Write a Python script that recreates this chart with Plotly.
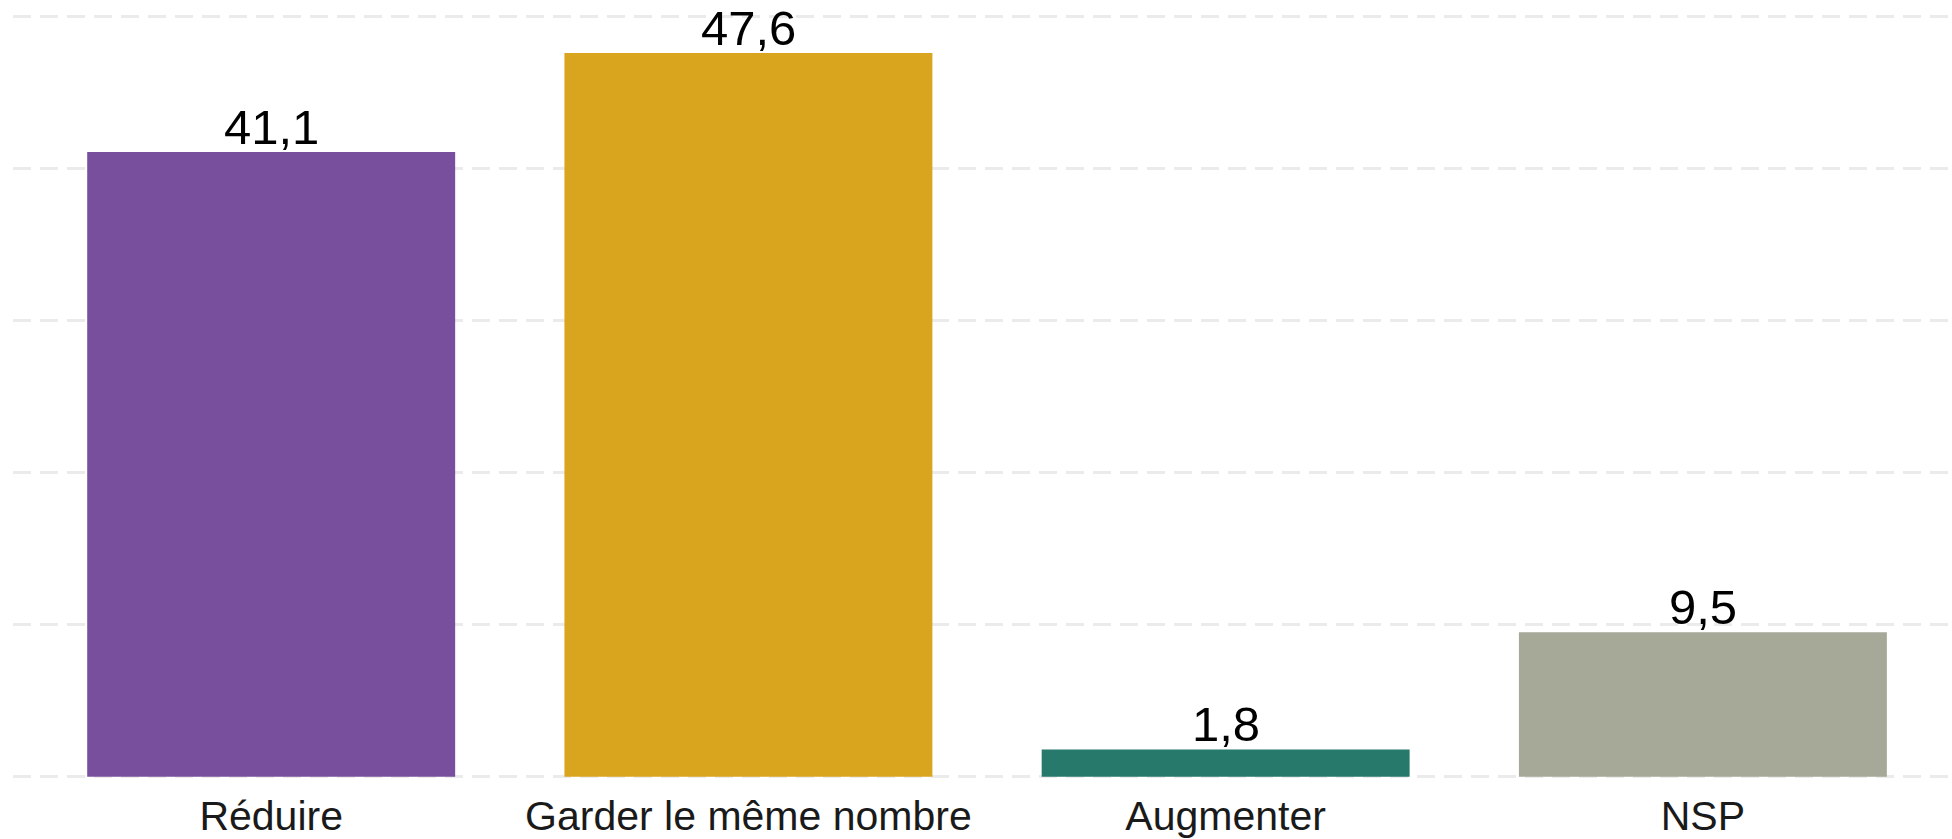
import plotly.graph_objects as go

categories = ["Réduire", "Garder le même nombre", "Augmenter", "NSP"]
values = [41.1, 47.6, 1.8, 9.5]
colors = ["#774F9C", "#DAA51E", "#27796C", "#A6A998"]
value_labels = [f"{v:.1f}".replace(".", ",") for v in values]

W, H = 1952, 839
plot_top, plot_bottom = 0, 785
plot_left = 13

fig = go.Figure(
    go.Bar(
        x=categories,
        y=values,
        marker=dict(color=colors, line=dict(width=0)),
        cliponaxis=False,
        width=0.771,
    )
)

# value labels sitting just above each bar
for cat, val, lab in zip(categories, values, value_labels):
    fig.add_annotation(
        x=cat,
        y=val,
        text=lab,
        showarrow=False,
        xanchor="center",
        yanchor="bottom",
        yshift=-4,
        font=dict(family="Liberation Sans, Arial, sans-serif", size=49, color="#000000"),
    )

fig.update_layout(
    width=W,
    height=H,
    margin=dict(l=plot_left, r=0, t=plot_top, b=H - plot_bottom, pad=0),
    paper_bgcolor="white",
    plot_bgcolor="white",
    showlegend=False,
    font=dict(family="Liberation Sans, Arial, sans-serif", color="#000000"),
)

fig.update_xaxes(
    range=[-0.541, 3.522],
    showgrid=False,
    showline=False,
    zeroline=False,
    ticks="",
    tickfont=dict(size=41, color="#1a1a1a"),
    ticklabelstandoff=7,
)

fig.update_yaxes(
    range=[-0.28, 51.09],
    tickvals=[0, 10, 20, 30, 40, 50],
    showticklabels=False,
    showgrid=True,
    gridcolor="#EBEBEB",
    gridwidth=2.5,
    griddash="18px,9px",
    zeroline=False,
    showline=False,
    ticks="",
)

fig.write_html("out.html")
